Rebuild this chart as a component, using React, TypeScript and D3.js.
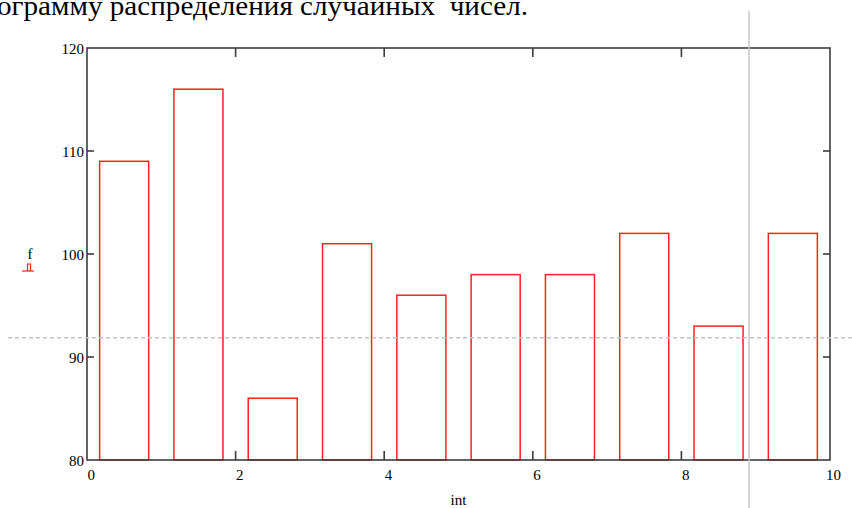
import * as d3 from "d3";

// histogram data
const intervals = [0.5, 1.5, 2.5, 3.5, 4.5, 5.5, 6.5, 7.5, 8.5, 9.5];
const freq = [109, 116, 86, 101, 96, 98, 98, 102, 93, 102];
const xTicks = [0, 2, 4, 6, 8, 10];
const yTicks = [80, 90, 100, 110, 120];
const cursor = { x: 8.91, y: 91.86 };
const barWidth = 0.66;

const W = 852;
const H = 508;
const margin = { top: 48, right: 22, bottom: 48, left: 87 };
const font = "'Liberation Serif', 'Times New Roman', serif";

export default function App() {
  const x = d3.scaleLinear().domain([0, 10]).range([margin.left, W - margin.right]);
  const y = d3.scaleLinear().domain([80, 120]).range([H - margin.bottom, margin.top]);
  const [x0, x1] = x.range();
  const [y0, y1] = y.range();
  const tick = 7;
  const txt = { fontFamily: font };

  return (
    <svg
      width={W}
      height={H}
      style={{ position: "absolute", left: 0, top: 0, background: "#fff", fontFamily: font }}
    >
      <text
        x={-3}
        y={15}
        fontSize={28}
        fill="#000"
        textLength={531}
        lengthAdjust="spacingAndGlyphs"
        style={{ ...txt, whiteSpace: "pre" }}
      >
        {"ограмму распределения случайных  чисел."}
      </text>

      {/* bars */}
      <g fill="none" stroke="#ff2020" strokeWidth={1.5}>
        {intervals.map((c, i) => (
          <rect
            key={i}
            x={x(c - barWidth / 2)}
            y={y(freq[i])}
            width={x(c + barWidth / 2) - x(c - barWidth / 2)}
            height={y0 - y(freq[i])}
          />
        ))}
      </g>

      {/* frame + inner ticks */}
      <g stroke="#3c3c3c" strokeWidth={1.6} fill="none">
        <rect x={x0} y={y1} width={x1 - x0} height={y0 - y1} />
        {yTicks.slice(1, -1).map((t) => (
          <g key={t}>
            <line x1={x0} x2={x0 + tick} y1={y(t)} y2={y(t)} />
            <line x1={x1} x2={x1 - tick} y1={y(t)} y2={y(t)} />
          </g>
        ))}
        {xTicks.slice(1, -1).map((t) => (
          <g key={t}>
            <line x1={x(t)} x2={x(t)} y1={y0} y2={y0 - 9} />
            <line x1={x(t)} x2={x(t)} y1={y1} y2={y1 + 9} />
          </g>
        ))}
      </g>

      {/* tick labels */}
      <g fontSize={15} fill="#000">
        {yTicks.map((t) => (
          <text key={t} x={x0 - 3} y={y(t) + 6} textAnchor="end" style={txt}>
            {t}
          </text>
        ))}
        {xTicks.map((t) => (
          <text key={t} x={t === 10 ? x(t) - 4 : x(t) + 0.5} y={y0 + 20} style={txt}>
            {t}
          </text>
        ))}
      </g>

      {/* axis titles */}
      <text x={(x0 + x1) / 2} y={H - 3} fontSize={15} textAnchor="middle" style={txt}>
        int
      </text>
      <text x={30} y={259} fontSize={15} textAnchor="middle" style={txt}>
        f
      </text>
      <g stroke="#ff2020" strokeWidth={1.2} fill="none">
        <line x1={22} x2={34} y1={271} y2={271} />
        <path d="M27.5,271 V264 H30.5 V271" />
      </g>

      {/* trace cursor */}
      <line
        x1={8}
        x2={W}
        y1={y(cursor.y)}
        y2={y(cursor.y)}
        stroke="#c4c4c4"
        strokeWidth={1.5}
        strokeDasharray="4,3"
      />
      <line x1={x(cursor.x)} x2={x(cursor.x)} y1={11} y2={H} stroke="#c8c8c8" strokeWidth={1.5} />
    </svg>
  );
}
